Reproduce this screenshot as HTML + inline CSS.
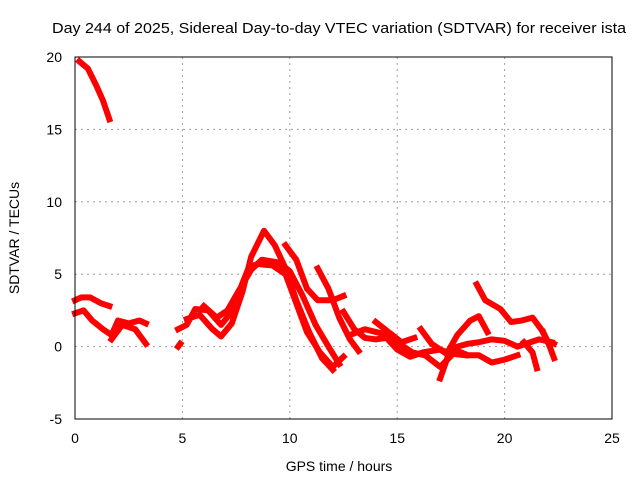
<!DOCTYPE html>
<html><head><meta charset="utf-8"><style>
body{margin:0;background:#fff}
svg{display:block;font-family:"Liberation Sans",sans-serif}
</style></head><body>
<svg id="chart" width="640" height="480" viewBox="0 0 640 480">
<text x="339" y="33" text-anchor="middle" font-size="15" textLength="574" lengthAdjust="spacingAndGlyphs" fill="#000">Day 244 of 2025, Sidereal Day-to-day VTEC variation (SDTVAR) for receiver ista</text>
<text x="339" y="471" text-anchor="middle" font-size="14">GPS time / hours</text>
<text transform="translate(19,238) rotate(-90)" text-anchor="middle" font-size="14">SDTVAR / TECUs</text>
<g id="grid"></g><g id="marks"></g>
<rect x="75" y="57" width="537" height="362" fill="none" stroke="#000" stroke-width="1"/>
</svg>
<script>
const xTicks=[0,5,10,15,20,25];
const yTicks=[-5,0,5,10,15,20];
const s1=[[0.2,19.7],[0.6,19.2],[1,18],[1.3,17],[1.6,15.7]];
const s2=[[0,3.2],[0.3,3.4],[0.7,3.4],[1.2,3],[1.6,2.8]];
const s3=[[0,2.3],[0.4,2.5],[0.8,1.8],[1.3,1.2],[1.7,0.8],[2,1.8],[2.5,1.6],[3,1.8],[3.3,1.6]];
const s4=[[1.7,0.5],[2.2,1.5],[2.8,1.2],[3.3,0.2]];
const s5=[[4.8,0],[4.9,0.2]];
const s6=[[4.8,1.2],[5.2,1.5],[5.6,2.6],[6.2,2.5],[6.8,1.5],[7.3,2.4],[7.8,4.4],[8.1,5.5],[8.5,5.7],[9.2,5.6],[9.8,5],[10.3,3],[10.8,1],[11.4,-0.4],[12,-1.4],[12.5,-0.7]];
const s7=[[5.2,1.9],[5.8,2.2],[6.4,1.2],[6.8,0.7],[7.3,1.6],[7.8,3.8],[8.2,6.2],[8.8,8],[9.3,7],[9.8,5.4],[10.3,3.2],[10.9,1],[11.5,-0.8],[12,-1.6]];
const s8=[[6,2.8],[6.6,2],[7.1,2.5],[7.6,3.8],[8.2,5.3],[8.7,6],[9.5,5.8],[10,5.2],[10.6,3.5],[11.2,1.5],[11.8,0],[12.3,-1.2]];
const s9=[[9.8,7],[10.3,6],[10.8,4],[11.3,3.2],[12,3.2],[12.5,3.5]];
const s10=[[11.3,5.4],[11.8,4],[12.3,2],[12.8,0.5],[13.2,-0.3]];
const s11=[[12.5,2.4],[13,1.2],[13.5,0.6],[14,0.5],[14.5,0.6],[15,-0.2],[15.6,-0.7],[16.2,-0.4],[17,-0.2],[17.5,-0.5]];
const s12=[[12.8,0.8],[13.5,1.2],[14.3,0.9],[15,0.3],[15.7,-0.4],[16.3,-0.6],[17,-1.4],[17.6,-0.5],[18.2,-0.6]];
const s13=[[14,1.7],[14.6,1],[15.2,0.3],[15.8,0.6]];
const s14=[[16.1,1.2],[16.6,0.2],[17.3,-0.5],[17.8,0.8],[18.4,1.8],[18.8,2.1],[19.2,1]];
const s15=[[17,-2.2],[17.4,-0.5],[17.8,0],[18.3,0.2],[18.8,0.3],[19.4,0.5],[20,0.4],[20.6,0],[21.2,0.3],[21.6,0.5],[22.2,0.3]];
const s16=[[17.8,-0.3],[18.3,-0.6],[18.8,-0.6],[19.4,-1.1],[20,-0.9],[20.6,-0.6]];
const s17=[[18.7,4.3],[19.1,3.2],[19.8,2.6],[20.3,1.7],[20.8,1.8],[21.3,2],[21.7,1.2],[22,0.4],[22.3,0.2]];
const s18=[[20.9,0.3],[21.3,-0.4],[21.5,-1.5]];
const s19=[[21.8,1],[22.1,0],[22.3,-0.8]];
const series=[s1,s2,s3,s4,s5,s6,s7,s8,s9,s10,s11,s12,s13,s14,s15,s16,s17,s18,s19];
const X0=75,X1=612,Y0=419,Y1=57;
const xs=v=>X0+(v-0)/25*(X1-X0);
const ys=v=>Y0-(v+5)/25*(Y0-Y1);
const NS="http://www.w3.org/2000/svg";
const grid=document.getElementById('grid'),marks=document.getElementById('marks'),svg=document.getElementById('chart');
xTicks.forEach(t=>{
 const x=xs(t);
 if(t>0&&t<25){const l=document.createElementNS(NS,'line');
 
 
 l.setAttribute('x1',x);l.setAttribute('x2',x);l.setAttribute('y1',Y1);l.setAttribute('y2',Y0);
 l.setAttribute('stroke','#a0a0a0');l.setAttribute('stroke-dasharray','2,4');grid.appendChild(l);}
 const tx=document.createElementNS(NS,'text');
 
 
 tx.setAttribute('x',x);tx.setAttribute('y',443);tx.setAttribute('text-anchor','middle');tx.setAttribute('font-size','14');
 tx.textContent=t;svg.appendChild(tx);
});
yTicks.forEach(t=>{
 const y=ys(t);
 if(t>-5&&t<20){const l=document.createElementNS(NS,'line');
 
 
 l.setAttribute('x1',X0);l.setAttribute('x2',X1);l.setAttribute('y1',y);l.setAttribute('y2',y);
 l.setAttribute('stroke','#a0a0a0');l.setAttribute('stroke-dasharray','2,4');grid.appendChild(l);}
 const tx=document.createElementNS(NS,'text');
 
 
 tx.setAttribute('x',62);tx.setAttribute('y',y+5);tx.setAttribute('text-anchor','end');tx.setAttribute('font-size','14');
 tx.textContent=t;svg.appendChild(tx);
});
series.forEach(s=>{
 const p=document.createElementNS(NS,'polyline');
 
 
 p.setAttribute('points',s.map(d=>xs(d[0])+','+ys(d[1])).join(' '));
 p.setAttribute('fill','none');p.setAttribute('stroke','#ff0000');p.setAttribute('stroke-width','6');
 p.setAttribute('stroke-linejoin','round');p.setAttribute('stroke-linecap','square');
 marks.appendChild(p);
});
</script>
</body></html>
